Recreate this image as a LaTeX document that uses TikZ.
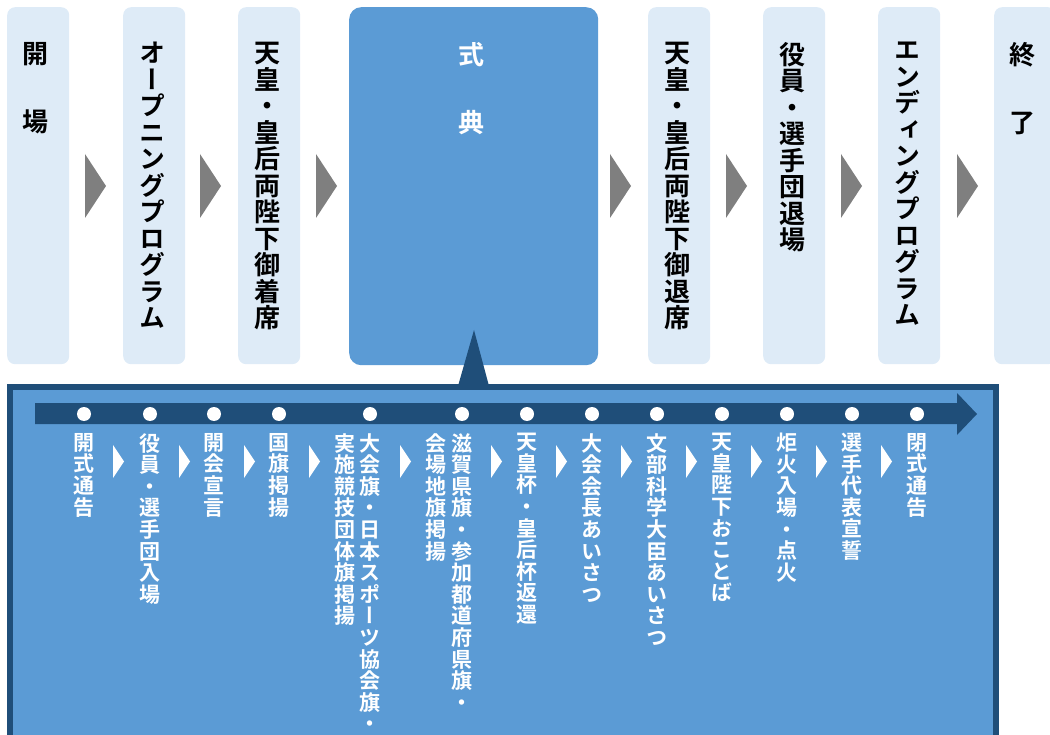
\documentclass[tikz,border=0pt]{standalone}
\usepackage{fontspec}
\newfontfamily\jp{Noto Sans CJK JP}[BoldFont={Noto Sans CJK JP Bold},RawFeature={+vert}]
\definecolor{lightbox}{HTML}{DEEBF7}
\definecolor{midblue}{HTML}{5B9BD5}
\definecolor{darkblue}{HTML}{1F4E79}
\definecolor{arrowgray}{HTML}{7F7F7F}
\begin{document}
\begin{tikzpicture}[x=1pt,y=-1pt,
  stepbox/.style={fill=lightbox,rounded corners=8pt,inner sep=0,minimum width=62pt,minimum height=357pt,anchor=north west},
  mainbox/.style={fill=midblue,rounded corners=12pt,inner sep=0,minimum width=249pt,minimum height=358pt,anchor=north west},
  toptext/.style={font=\jp\bfseries\fontsize{26}{26.5}\selectfont,align=center,inner sep=0,anchor=north},
  bottext/.style={font=\jp\bfseries\fontsize{21}{21.6}\selectfont,align=center,inner sep=0,anchor=north,text=white},
  dot/.style={circle,fill=white,inner sep=0,minimum size=14pt},
  grayarrow/.style={fill=arrowgray},
  chev/.style={fill=white}]
\useasboundingbox (0,0) rectangle (1050,735);
\clip (0,0) rectangle (1050,735);
% top row boxes
\node[stepbox] (b1) at (7,7) {};
\node[stepbox] (b2) at (123,7) {};
\node[stepbox] (b3) at (238,7) {};
\node[mainbox] (b4) at (349,7) {};
\node[stepbox] (b5) at (648,7) {};
\node[stepbox] (b6) at (763,7) {};
\node[stepbox] (b7) at (878,7) {};
\node[stepbox] (b8) at (994,7) {};
% top texts
\node[toptext] (t1) at (36,42) {開\\[41.5pt]場};
\node[toptext] (t2) at (152,42) {オ\\ー\\プ\\ニ\\ン\\グ\\プ\\ロ\\グ\\ラ\\ム};
\node[toptext] (t3) at (267,42) {天\\皇\\・\\皇\\后\\両\\陛\\下\\御\\着\\席};
\node[toptext,text=white] (t4) at (471,42) {式\\[41.5pt]典};
\node[toptext] (t5) at (677,42) {天\\皇\\・\\皇\\后\\両\\陛\\下\\御\\退\\席};
\node[toptext] (t6) at (792,42) {役\\員\\・\\選\\手\\団\\退\\場};
\node[toptext] (t7) at (907,42) {エ\\ン\\デ\\ィ\\ン\\グ\\プ\\ロ\\グ\\ラ\\ム};
\node[toptext] (t8) at (1022,42) {終\\[41.5pt]了};
% gray arrows
\foreach \xa in {85,200,316,610,726,841,957}
  \fill[grayarrow] (\xa,154) -- (\xa+21,186) -- (\xa,218) -- cycle;
% bottom panel
\fill[midblue] (10,387) rectangle (996,760);
\draw[darkblue,line width=6pt] (10,760) -- (10,387) -- (996,387) -- (996,760);
% pointer
\fill[darkblue] (458,386) -- (474,330) -- (489,386) -- cycle;
% timeline
\fill[darkblue] (35,403) -- (957,403) -- (957,393) -- (977,414) -- (957,435) -- (957,424) -- (35,424) -- cycle;
% dots
\foreach \xd [count=\i] in {84,150,214,279,370,462,527,592,657,722,787,852,917}
  \node[dot] (d\i) at (\xd,414) {};
% labels
\node[bottext] (l1) at (84,433) {開\\式\\通\\告};
\node[bottext] (l2) at (150,433) {役\\員\\・\\選\\手\\団\\入\\場};
\node[bottext] (l3) at (214,433) {開\\会\\宣\\言};
\node[bottext] (l4) at (279,433) {国\\旗\\掲\\揚};
\node[bottext] (l5a) at (370,433) {大\\会\\旗\\・\\日\\本\\ス\\ポ\\ー\\ツ\\協\\会\\旗\\・};
\node[bottext] (l5b) at (345,433) {実\\施\\競\\技\\団\\体\\旗\\掲\\揚};
\node[bottext] (l6a) at (462,433) {滋\\賀\\県\\旗\\・\\参\\加\\都\\道\\府\\県\\旗\\・};
\node[bottext] (l6b) at (436,433) {会\\場\\地\\旗\\掲\\揚};
\node[bottext] (l7) at (527,433) {天\\皇\\杯\\・\\皇\\后\\杯\\返\\還};
\node[bottext] (l8) at (592,433) {大\\会\\会\\長\\あ\\い\\さ\\つ};
\node[bottext] (l9) at (657,433) {文\\部\\科\\学\\大\\臣\\あ\\い\\さ\\つ};
\node[bottext] (l10) at (722,433) {天\\皇\\陛\\下\\お\\こ\\と\\ば};
\node[bottext] (l11) at (787,433) {炬\\火\\入\\場\\・\\点\\火};
\node[bottext] (l12) at (852,433) {選\\手\\代\\表\\宣\\誓};
\node[bottext] (l13) at (917,433) {閉\\式\\通\\告};
% chevrons
\foreach \xc in {113,179,244,309,400,491,556,621,686,751,816,881}
  \fill[chev] (\xc,445) -- (\xc+11,461.5) -- (\xc,478) -- cycle;
\end{tikzpicture}
\end{document}
